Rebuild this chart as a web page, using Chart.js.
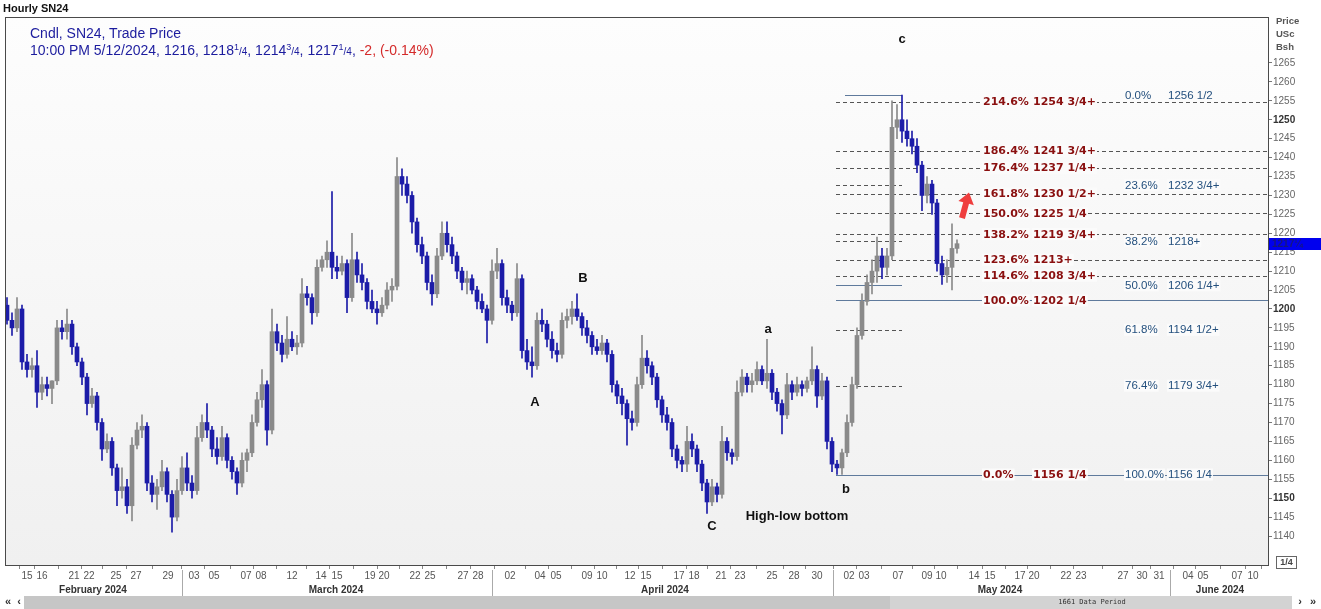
<!DOCTYPE html>
<html lang="en">
<head>
<meta charset="UTF-8">
<title>Hourly SN24</title>
<script src="https://cdn.jsdelivr.net/npm/chart.js"></script>
<style>
  body { margin: 0; background: #fff; overflow: hidden; }
  #wrap { position: relative; width: 1321px; height: 609px; }
  #title { position: absolute; left: 3px; top: 2px; font: bold 11px "Liberation Sans", Arial, sans-serif; color: #111; }
  #legend { position: absolute; left: 30px; top: 25px; font: 14px "Liberation Sans", Arial, sans-serif; color: #1c1c9e; line-height: 17px; white-space: nowrap; }
  #legend sup { font-size: 9px; vertical-align: 5px; line-height: 0; }
  #legend .fr { font-size: 10px; }
  #legend .neg { color: #d42a2a; }
</style>
</head>
<body>
<div id="wrap">
  <canvas id="chart" width="1321" height="609"></canvas>
  <div id="title">Hourly SN24</div>
  <div id="legend">Cndl, SN24, Trade Price<br>10:00 PM 5/12/2024, 1216, 1218<sup>1</sup><span class="fr">/4</span>, 1214<sup>3</sup><span class="fr">/4</span>, 1217<sup>1</sup><span class="fr">/4</span>, <span class="neg">-2, (-0.14%)</span></div>
</div>
<script>
// hourly candles (one candle per ~5px step)
const opens = [
  1201,1197,1195,1200,1186,1184,1185,1178,1180,1179,
  1181,1195,1194,1196,1190,1186,1182,1175,1177,1170,
  1163,1165,1158,1152,1153,1148,1164,1168,1169,1154,
  1151,1153,1157,1151,1145,1152,1158,1154,1152,1166,
  1170,1168,1163,1161,1166,1160,1157,1154,1160,1162,
  1170,1176,1180,1168,1194,1191,1188,1192,1190,1191,
  1204,1203,1199,1211,1213,1215,1211,1210,1212,1203,
  1213,1209,1207,1202,1200,1199,1201,1205,1206,1235,
  1233,1230,1223,1217,1214,1207,1204,1214,1220,1217,
  1214,1210,1207,1208,1205,1202,1200,1197,1210,1212,
  1203,1201,1199,1208,1189,1186,1185,1197,1196,1192,
  1189,1188,1197,1198,1200,1198,1195,1193,1190,1189,
  1191,1188,1180,1177,1175,1171,1170,1180,1187,1185,
  1182,1176,1172,1170,1163,1160,1159,1165,1163,1159,
  1154,1149,1153,1151,1165,1162,1161,1178,1182,1180,
  1181,1184,1181,1183,1178,1175,1172,1180,1178,1180,
  1179,1181,1184,1177,1181,1165,1159,1158,1162,1170,
  1180,1193,1202,1207,1210,1214,1211,1214,1248,1250,
  1247,1245,1243,1238,1230,1233,1228,1212,1209,1211,
  1216
];
const highs = [
  1203,1199,1203,1201,1188,1187,1189,1182,1182,1181,
  1197,1197,1200,1197,1191,1187,1183,1179,1178,1171,
  1167,1166,1159,1158,1155,1166,1170,1172,1170,1156,
  1155,1160,1158,1152,1155,1161,1162,1156,1169,1172,
  1175,1169,1166,1169,1167,1161,1158,1162,1163,1172,
  1178,1184,1181,1200,1196,1193,1198,1194,1193,1208,
  1206,1204,1213,1214,1218,1231,1214,1214,1213,1220,
  1215,1212,1208,1205,1202,1203,1207,1208,1240,1237,
  1235,1231,1224,1219,1215,1209,1216,1223,1223,1219,
  1215,1211,1210,1209,1206,1204,1201,1213,1216,1213,
  1205,1202,1212,1209,1192,1190,1199,1200,1197,1194,
  1191,1199,1200,1202,1204,1199,1197,1194,1192,1193,
  1192,1189,1181,1179,1176,1173,1182,1193,1189,1186,
  1183,1177,1174,1171,1164,1161,1169,1167,1164,1160,
  1155,1155,1154,1169,1166,1163,1181,1184,1183,1183,
  1186,1185,1192,1184,1179,1176,1183,1181,1182,1181,
  1182,1190,1185,1183,1182,1166,1160,1163,1172,1182,
  1195,1204,1209,1213,1219,1216,1216,1255,1254,1256.5,
  1250,1247,1245,1239,1235,1234,1229,1214,1213,1222.5,
  1218.25
];
const lows = [
  1196,1193,1194,1184,1182,1182,1174,1176,1177,1175,
  1180,1192,1192,1188,1185,1180,1172,1174,1168,1160,
  1162,1156,1148,1150,1146,1144,1163,1166,1152,1149,
  1147,1152,1149,1141,1144,1151,1152,1150,1151,1165,
  1166,1161,1159,1160,1158,1155,1151,1153,1157,1161,
  1169,1174,1164,1167,1189,1186,1187,1189,1188,1190,
  1201,1196,1198,1210,1211,1208,1208,1209,1199,1202,
  1207,1205,1200,1199,1196,1198,1200,1202,1205,1230,
  1228,1220,1215,1212,1205,1201,1203,1213,1215,1212,
  1208,1205,1204,1204,1200,1199,1191,1196,1208,1201,
  1199,1197,1198,1187,1184,1182,1184,1194,1190,1187,
  1186,1187,1195,1196,1197,1193,1191,1188,1188,1188,
  1186,1178,1175,1172,1164,1168,1169,1179,1183,1180,
  1174,1170,1168,1161,1158,1157,1157,1161,1157,1152,
  1146,1148,1149,1150,1160,1159,1160,1177,1178,1178,
  1180,1180,1179,1176,1173,1167,1171,1176,1177,1177,
  1178,1180,1174,1176,1163,1157,1156.25,1156.25,1161,1169,
  1179,1192,1201,1204,1207,1208,1209,1213,1245,1244,
  1243,1241,1236,1226,1228,1225,1210,1206.5,1207,1205,
  1214.75
];
const closes = [
  1197,1195,1200,1186,1184,1185,1178,1180,1179,1181,
  1195,1194,1196,1190,1186,1182,1175,1177,1170,1163,
  1165,1158,1152,1153,1148,1164,1168,1169,1154,1151,
  1153,1157,1151,1145,1152,1158,1154,1152,1166,1170,
  1168,1163,1161,1166,1160,1157,1154,1160,1162,1170,
  1176,1180,1168,1194,1191,1188,1192,1190,1191,1204,
  1203,1199,1211,1213,1215,1211,1210,1212,1203,1213,
  1209,1207,1202,1200,1199,1201,1205,1206,1235,1233,
  1230,1223,1217,1214,1207,1204,1214,1220,1217,1214,
  1210,1207,1208,1205,1202,1200,1197,1210,1212,1203,
  1201,1199,1208,1189,1186,1185,1197,1196,1192,1189,
  1188,1197,1198,1200,1198,1195,1193,1190,1189,1191,
  1188,1180,1177,1175,1171,1170,1180,1187,1185,1182,
  1176,1172,1170,1163,1160,1159,1165,1163,1159,1154,
  1149,1153,1151,1165,1162,1161,1178,1182,1180,1181,
  1184,1181,1183,1178,1175,1172,1180,1178,1180,1179,
  1181,1184,1177,1181,1165,1159,1158,1162,1170,1180,
  1193,1202,1207,1210,1214,1211,1214,1248,1250,1247,
  1245,1243,1238,1230,1233,1228,1212,1209,1211,1216,
  1217.25
];

// x axis: day labels at candle positions, month names
const dayTickPos = [4,7,13.4,16.4,21.8,25.8,32.2,37.4,41.4,47.8,50.8,57,62.8,66,72.6,75.4,81.6,84.6,91.2,94.2,
  100.6,106.6,109.8,116,119,124.6,127.8,134.4,137.4,142.8,146.6,153,157.4,162,168.4,171.4,178.2,184,186.8,
  193.4,196.6,202.6,205.4,211.8,214.8,223.2,227,230.4,236.2,239.2,246,249.2];
const dayTickLabels = ['15','16','21','22','25','27','29','03','05','07','08','12','14','15','19','20','22','25','27','28',
  '02','04','05','09','10','12','15','17','18','21','23','25','28','30','02','03','07','09','10',
  '14','15','17','20','22','23','27','30','31','04','05','07','10'];
const monthLabels = ['February 2024','March 2024','April 2024','May 2024','June 2024'];
const monthPos = [17.2, 65.8, 131.6, 198.6, 242.6];
const monthBreaks = [35, 97, 165.2, 232.6];

const yTicks = [1140,1145,1150,1155,1160,1165,1170,1175,1180,1185,1190,1195,1200,1205,1210,1215,
  1220,1225,1230,1235,1240,1245,1250,1255,1260,1265];

// fibonacci levels
const extLevels = [1254.75,1241.75,1237.25,1230.5,1225.25,1219.75,1213,1208.75,1202.25,1156.25];
const extPct = ['214.6%','186.4%','176.4%','161.8%','150.0%','138.2%','123.6%','114.6%','100.0%','0.0%'];
const extPrice = ['1254 3/4+','1241 3/4+','1237 1/4+','1230 1/2+','1225 1/4','1219 3/4+','1213+','1208 3/4+','1202 1/4','1156 1/4'];
const retLevels = [1256.5,1232.75,1218,1206.25,1194.5,1179.75,1156.25];
const retPct = ['0.0%','23.6%','38.2%','50.0%','61.8%','76.4%','100.0%'];
const retPrice = ['1256 1/2','1232 3/4+','1218+','1206 1/4+','1194 1/2+','1179 3/4+','1156 1/4'];

// wave labels
const waveText = ['c','B','A','a','C','b','High-low bottom'];
const waveX = [179, 115.2, 105.6, 152.2, 141, 167.8, 158];
const waveY = [1271.1, 1208.2, 1175.4, 1194.7, 1142.6, 1152.2, 1145.3];

const lastPrice = 1217.25;

const UP = '#8a8a8a';
const DOWN = '#1c1ca8';
const FONT = '"Liberation Sans", Arial, sans-serif';

const candleColor = (c) => {
  const i = c.dataIndex;
  return closes[i] >= opens[i] ? UP : DOWN;
};

const wicks = closes.map((c, i) => ({ x: i, y: [lows[i], highs[i]] }));
const bodies = closes.map((c, i) => ({ x: i, y: [opens[i], c] }));

const decor = {
  id: 'decor',
  beforeDraw(chart) {
    const { ctx, chartArea: a } = chart;
    ctx.save();
    ctx.fillStyle = '#fff';
    ctx.fillRect(0, 0, chart.width, chart.height);
    const g = ctx.createLinearGradient(0, a.top, 0, a.bottom);
    g.addColorStop(0, '#fdfdfd');
    g.addColorStop(1, '#f0f0f0');
    ctx.fillStyle = g;
    ctx.fillRect(a.left, a.top, a.right - a.left, a.bottom - a.top);
    ctx.restore();
  },
  beforeDatasetsDraw(chart) {
    const { ctx, chartArea: a, scales: { x: xs, y: ys } } = chart;
    const startX = xs.getPixelForValue(165.8);
    const shortEnd = xs.getPixelForValue(179);
    ctx.save();
    ctx.lineWidth = 1;
    const hline = (v, x0, x1, solid) => {
      const y = Math.round(ys.getPixelForValue(v)) + 0.5;
      ctx.setLineDash(solid ? [] : [4, 3]);
      ctx.strokeStyle = solid ? '#5f7a9c' : '#555';
      ctx.beginPath();
      ctx.moveTo(x0, y);
      ctx.lineTo(x1, y);
      ctx.stroke();
    };
    extLevels.forEach((v, i) => hline(v, startX, a.right, extPct[i] === '100.0%' || extPct[i] === '0.0%'));
    retLevels.forEach((v, i) => {
      if (retPct[i] === '100.0%') return;
      hline(v, i === 0 ? xs.getPixelForValue(167.6) : startX, shortEnd, retPct[i] === '0.0%' || retPct[i] === '50.0%');
    });
    ctx.restore();
  },
  afterDatasetsDraw(chart) {
    const { ctx, chartArea: a, scales: { x: xs, y: ys } } = chart;
    ctx.save();
    ctx.textBaseline = 'middle';
    const tag = (txt, x, y, font, color) => {
      ctx.font = font;
      const w = ctx.measureText(txt).width;
      ctx.fillStyle = '#fbfbfb';
      ctx.fillRect(x - 1, y - 6, w + 2, 12);
      ctx.fillStyle = color;
      ctx.fillText(txt, x, y + 0.5);
    };
    const redFont = 'bold 11px "DejaVu Sans", Verdana, sans-serif';
    extLevels.forEach((v, i) => {
      const y = ys.getPixelForValue(v);
      tag(extPct[i], xs.getPixelForValue(195.2), y, redFont, '#8a1010');
      tag(extPrice[i], xs.getPixelForValue(205.2), y, redFont, '#8a1010');
    });
    const blueFont = '11.5px ' + FONT;
    retLevels.forEach((v, i) => {
      const y = ys.getPixelForValue(v);
      tag(retPct[i], xs.getPixelForValue(223.6), y, blueFont, '#24507e');
      tag(retPrice[i], xs.getPixelForValue(232.2), y, blueFont, '#24507e');
    });

    // wave labels
    ctx.font = 'bold 13px ' + FONT;
    ctx.fillStyle = '#111';
    ctx.textAlign = 'center';
    waveText.forEach((t, i) => ctx.fillText(t, xs.getPixelForValue(waveX[i]), ys.getPixelForValue(waveY[i])));

    // red arrow
    const tx = xs.getPixelForValue(191), ty = ys.getPixelForValue(1224);
    const hx = xs.getPixelForValue(192.4), hy = ys.getPixelForValue(1230.8);
    const ang = Math.atan2(hy - ty, hx - tx);
    const len = Math.hypot(hx - tx, hy - ty);
    ctx.translate(tx, ty);
    ctx.rotate(ang);
    ctx.fillStyle = '#ef3e3e';
    ctx.beginPath();
    ctx.moveTo(0, -3);
    ctx.lineTo(len - 11, -3);
    ctx.lineTo(len - 11, -8);
    ctx.lineTo(len, 0);
    ctx.lineTo(len - 11, 8);
    ctx.lineTo(len - 11, 3);
    ctx.lineTo(0, 3);
    ctx.closePath();
    ctx.fill();
    ctx.restore();
  },
  afterDraw(chart) {
    const { ctx, chartArea: a, scales: { x: xs, y: ys } } = chart;
    ctx.save();
    // frame
    ctx.strokeStyle = '#4a4a4a';
    ctx.lineWidth = 1;
    ctx.strokeRect(a.left - 0.5, a.top - 0.5, a.right - a.left + 1, a.bottom - a.top + 1);

    // axis title
    ctx.font = 'bold 9.5px ' + FONT;
    ctx.fillStyle = '#555';
    ctx.textBaseline = 'middle';
    ['Price', 'USc', 'Bsh'].forEach((t, i) => ctx.fillText(t, 1276, 21 + i * 13));

    // last price tag
    const py = Math.round(ys.getPixelForValue(lastPrice));
    ctx.fillStyle = '#0000ee';
    ctx.fillRect(a.right + 1, py - 6, chart.width - a.right, 12);
    ctx.fillStyle = '#17177a';
    ctx.font = 'bold 10px ' + FONT;
    ctx.fillText('1217\u00bc', a.right + 4, py + 0.5);

    // month row
    ctx.strokeStyle = '#aaa';
    monthBreaks.forEach((m) => {
      const x = Math.round(xs.getPixelForValue(m)) + 0.5;
      ctx.beginPath();
      ctx.moveTo(x, a.bottom + 5);
      ctx.lineTo(x, 596);
      ctx.stroke();
    });
    ctx.font = 'bold 10px ' + FONT;
    ctx.fillStyle = '#333';
    ctx.textAlign = 'center';
    monthLabels.forEach((m, i) => ctx.fillText(m, xs.getPixelForValue(monthPos[i]), 590));

    // scroll bar
    ctx.fillStyle = '#c6c6c6';
    ctx.fillRect(24, 596, 866, 13);
    ctx.fillStyle = '#d3d3d3';
    ctx.fillRect(890, 596, 402, 13);
    ctx.fillStyle = '#333';
    ctx.font = '7px "DejaVu Sans Mono", monospace';
    ctx.fillText('1661 Data Period', 1092, 602);
    ctx.font = 'bold 11px ' + FONT;
    ctx.fillText('\u00ab', 8, 602);
    ctx.fillText('\u2039', 19, 602);
    ctx.fillText('\u203a', 1300, 602);
    ctx.fillText('\u00bb', 1313, 602);

    // scale box
    ctx.strokeStyle = '#666';
    ctx.strokeRect(1276.5, 556.5, 20, 12);
    ctx.font = 'bold 9px ' + FONT;
    ctx.fillStyle = '#444';
    ctx.fillText('1/4', 1286.5, 563);
    ctx.restore();
  }
};

Chart.defaults.font.family = FONT;

new Chart(document.getElementById('chart'), {
  type: 'bar',
  data: {
    datasets: [
      { label: 'body', data: bodies, barThickness: 4, minBarLength: 1, grouped: false, backgroundColor: candleColor, borderWidth: 0 },
      { label: 'wick', data: wicks, barThickness: 1, grouped: false, backgroundColor: candleColor, borderWidth: 0 }
    ]
  },
  options: {
    responsive: false,
    animation: false,
    layout: { padding: { left: 6, top: 18, right: 0, bottom: 0 } },
    plugins: { legend: { display: false }, tooltip: { enabled: false } },
    scales: {
      x: {
        type: 'linear',
        min: -0.2,
        max: 252.2,
        offset: false,
        afterBuildTicks: (s) => { s.ticks = dayTickPos.map(v => ({ value: v })); },
        afterFit: (s) => { s.height = 44; },
        grid: { drawOnChartArea: false, drawTicks: true, tickLength: 4, color: '#888' },
        border: { display: true, color: '#4a4a4a' },
        ticks: {
          autoSkip: false, maxRotation: 0, padding: 1,
          font: { size: 10 }, color: '#555',
          callback: (v, i) => dayTickLabels[i]
        }
      },
      y: {
        type: 'linear',
        position: 'right',
        min: 1132.34,
        max: 1276.89,
        afterBuildTicks: (s) => { s.ticks = yTicks.map(v => ({ value: v })); },
        afterFit: (s) => { s.width = 53; },
        grid: { drawOnChartArea: false, drawTicks: true, tickLength: 4, color: '#777' },
        border: { display: true, color: '#4a4a4a' },
        ticks: {
          padding: 1,
          color: (c) => (c.tick && c.tick.value % 50 === 0 ? '#333' : '#666'),
          font: (c) => ({ size: 10, weight: c.tick && c.tick.value % 50 === 0 ? 'bold' : 'normal' }),
          callback: (v) => String(v)
        }
      }
    }
  },
  plugins: [decor]
});
</script>
</body>
</html>
